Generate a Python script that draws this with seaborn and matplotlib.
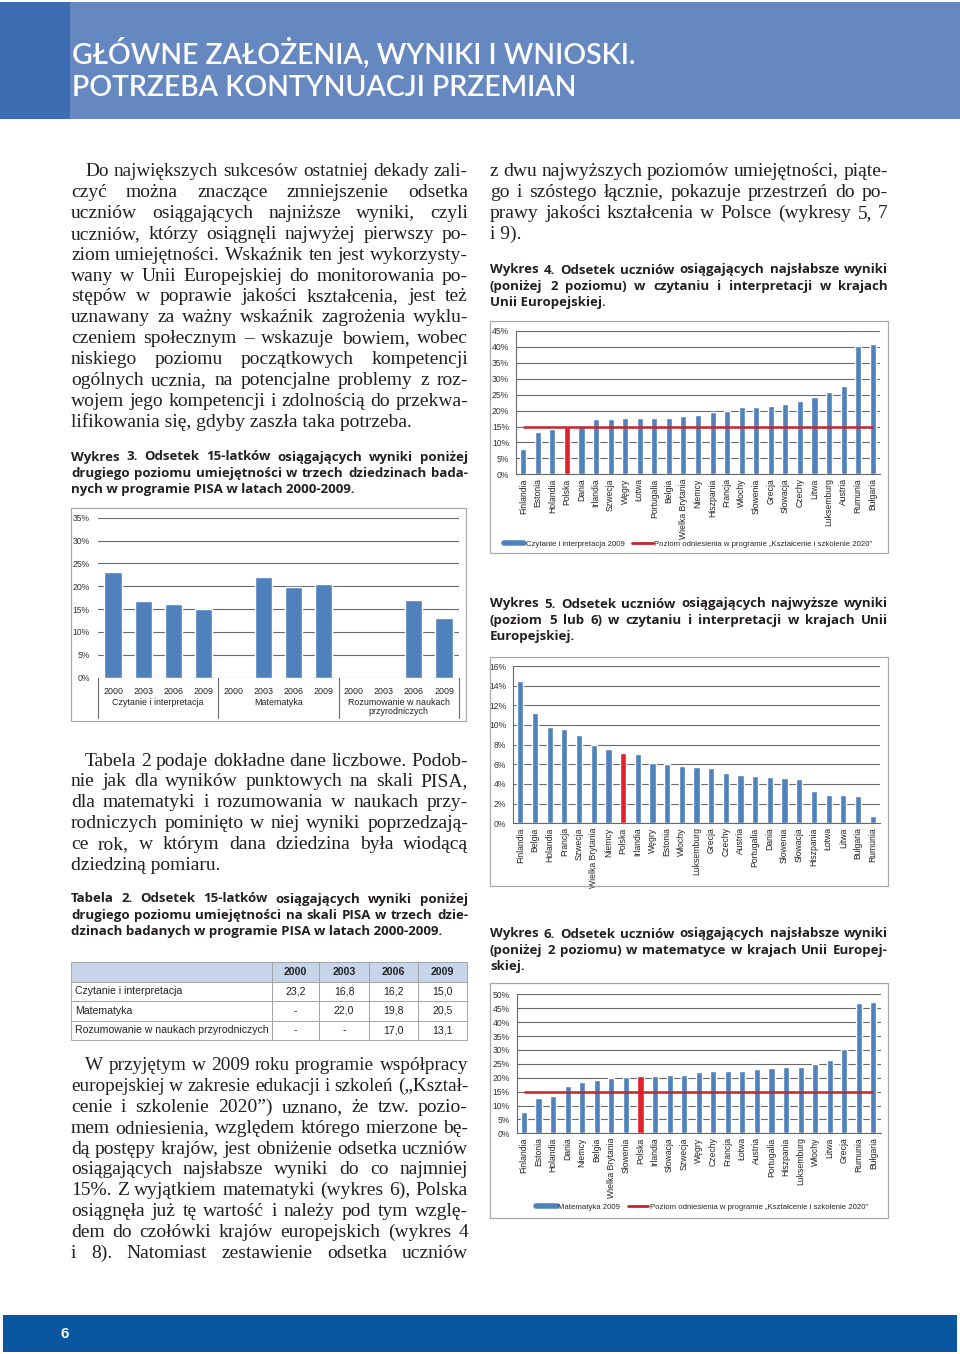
import matplotlib
matplotlib.use("Agg")
import numpy as np
import pandas as pd
import matplotlib.pyplot as plt
import matplotlib.transforms as mtransforms
from matplotlib.patches import Rectangle
from matplotlib.lines import Line2D
import seaborn as sns

sns.set_style("white")
narrow = ["Liberation Sans Narrow", "Liberation Sans", "DejaVu Sans"]
plt.rcParams["font.family"] = narrow

# ---- data ----
years = ["2000", "2003", "2006", "2009"]
domains = ["Czytanie i interpretacja", "Matematyka", "Rozumowanie w naukach przyrodniczych"]
domain_labels = ["Czytanie i interpretacja", "Matematyka", "Rozumowanie w naukach\nprzyrodniczych"]
reading = [23.2, 16.8, 16.2, 15.0]
math = [np.nan, 22.0, 19.8, 20.5]
science = [np.nan, np.nan, 17.0, 13.1]

w4_countries = ["Finlandia", "Estonia", "Holandia", "Polska", "Dania", "Irlandia", "Szwecja", "Węgry",
                "Łotwa", "Portugalia", "Belgia", "Wielka Brytania", "Niemcy", "Hiszpania", "Francja",
                "Włochy", "Słowenia", "Grecja", "Słowacja", "Czechy", "Litwa", "Luksemburg", "Austria",
                "Rumunia", "Bułgaria"]
w4_values = [8.1, 13.3, 14.3, 15.0, 15.2, 17.3, 17.5, 17.6, 17.6, 17.6, 17.7, 18.4, 18.5, 19.6, 19.8,
             21.0, 21.2, 21.3, 22.2, 23.1, 24.3, 26.0, 27.6, 40.4, 40.9]

w5_countries = ["Finlandia", "Belgia", "Holandia", "Francja", "Szwecja", "Wielka Brytania", "Niemcy",
                "Polska", "Irlandia", "Węgry", "Estonia", "Włochy", "Luksemburg", "Grecja", "Czechy",
                "Austria", "Portugalia", "Dania", "Słowenia", "Słowacja", "Hiszpania", "Łotwa", "Litwa",
                "Bułgaria", "Rumunia"]
w5_values = [14.5, 11.2, 9.8, 9.6, 9.0, 8.0, 7.6, 7.2, 7.0, 6.1, 6.0, 5.8, 5.7, 5.6, 5.1, 4.9, 4.8,
             4.7, 4.6, 4.5, 3.3, 2.9, 2.9, 2.8, 0.7]

w6_countries = ["Finlandia", "Estonia", "Holandia", "Dania", "Niemcy", "Belgia", "Wielka Brytania",
                "Słowenia", "Polska", "Irlandia", "Słowacja", "Szwecja", "Węgry", "Czechy", "Francja",
                "Łotwa", "Austria", "Portugalia", "Hiszpania", "Luksemburg", "Włochy", "Litwa", "Grecja",
                "Rumunia", "Bułgaria"]
w6_values = [7.8, 12.6, 13.4, 17.0, 18.6, 19.1, 20.0, 20.1, 20.5, 20.7, 21.0, 21.0, 22.2, 22.3, 22.4,
             22.5, 23.2, 23.6, 23.7, 23.9, 24.9, 26.3, 30.3, 47.0, 47.1]

ref_level = 15
ref_label = "Poziom odniesienia w programie „Kształcenie i szkolenie 2020”"

BLUE = "#4f81bd"
RED = "#e3202a"
REFRED = "#c4262e"
GRID = "#6a6a6a"
INK = "#231f20"

W, H = 960, 1354
fig = plt.figure(figsize=(W / 100, H / 100), dpi=100)
fig.patch.set_facecolor("white")
renderer = fig.canvas.get_renderer()


def box(x0, y0, x1, y1):
    return [x0 / W, 1 - y1 / H, (x1 - x0) / W, (y1 - y0) / H]


def rect(x0, y0, x1, y1, **kw):
    fig.add_artist(Rectangle((x0 / W, 1 - y1 / H), (x1 - x0) / W, (y1 - y0) / H,
                             transform=fig.transFigure, **kw))


def text_line(s, x0, x1, y, justify=True, min_gap=4.0, **kw):
    words = s.split()
    if not justify or len(words) < 2:
        fig.text(x0 / W, 1 - y / H, s, va="center", ha="left", **kw)
        return
    ts = [fig.text(0, 1 - y / H, w, va="center", ha="left", **kw) for w in words]
    size = kw.get("fontsize", 10)
    while True:
        ws = [t.get_window_extent(renderer).width for t in ts]
        gap = (x1 - x0 - sum(ws)) / (len(words) - 1)
        if gap >= min_gap or size < 6:
            break
        size -= 0.15
        for t in ts:
            t.set_fontsize(size)
    x = x0
    for t, w in zip(ts, ws):
        t.set_x(x / W)
        x += w + gap


def paragraph(lines, x0, x1, y0, dy, indent=0, last_justify=False, **kw):
    for i, s in enumerate(lines):
        last = i == len(lines) - 1
        text_line(s, x0 + (indent if i == 0 else 0), x1, y0 + i * dy,
                  justify=(not last) or last_justify, **kw)


body = dict(family=["Liberation Serif", "DejaVu Serif"], fontsize=14.0, color=INK, min_gap=4.5)
cap = dict(family=["Open Sans", "DejaVu Sans"], fontsize=9.5, fontweight="bold", color=INK,
           min_gap=3.0)

# ---- header / footer ----
rect(0, 2, 960, 119, facecolor="#6688c1", edgecolor="none")
rect(0, 2, 70, 119, facecolor="#3c6db3", edgecolor="none")
title_kw = dict(family=["Lato", "Open Sans"], color="white", fontsize=25, fontweight="semibold")
t1 = fig.text(72 / W, 1 - 53 / H, "GŁÓWNE ZAŁOŻENIA, WYNIKI I WNIOSKI.", va="center", **title_kw)
scale = 565 / t1.get_window_extent(renderer).width
t1.set_fontsize(25 * scale)
fig.text(72 / W, 1 - 88 / H, "POTRZEBA KONTYNUACJI PRZEMIAN", va="center",
         **{**title_kw, "fontsize": 25 * scale})

rect(3, 1315, 957, 1352, facecolor="#0b56a0", edgecolor="none")
fig.text(65 / W, 1 - 1334 / H, "6", color="white", fontsize=11, fontweight="bold",
         va="center", ha="center", family=["Liberation Sans", "DejaVu Sans"])

# ---- left column text ----
paragraph([
    "Do największych sukcesów ostatniej dekady zali-",
    "czyć można znaczące zmniejszenie odsetka",
    "uczniów osiągających najniższe wyniki, czyli",
    "uczniów, którzy osiągnęli najwyżej pierwszy po-",
    "ziom umiejętności. Wskaźnik ten jest wykorzysty-",
    "wany w Unii Europejskiej do monitorowania po-",
    "stępów w poprawie jakości kształcenia, jest też",
    "uznawany za ważny wskaźnik zagrożenia wyklu-",
    "czeniem społecznym – wskazuje bowiem, wobec",
    "niskiego poziomu początkowych kompetencji",
    "ogólnych ucznia, na potencjalne problemy z roz-",
    "wojem jego kompetencji i zdolnością do przekwa-",
    "lifikowania się, gdyby zaszła taka potrzeba.",
], 71, 468, 172, 20.83, indent=14, **body)

paragraph([
    "Wykres 3. Odsetek 15-latków osiągających wyniki poniżej",
    "drugiego poziomu umiejętności w trzech dziedzinach bada-",
    "nych w programie PISA w latach 2000-2009.",
], 71, 468, 457, 16.2, **cap)

paragraph([
    "Tabela 2 podaje dokładne dane liczbowe. Podob-",
    "nie jak dla wyników punktowych na skali PISA,",
    "dla matematyki i rozumowania w naukach przy-",
    "rodniczych pominięto w niej wyniki poprzedzają-",
    "ce rok, w którym dana dziedzina była wiodącą",
    "dziedziną pomiaru.",
], 71, 468, 761, 20.83, indent=14, **body)

paragraph([
    "Tabela 2. Odsetek 15-latków osiągających wyniki poniżej",
    "drugiego poziomu umiejętności na skali PISA w trzech dzie-",
    "dzinach badanych w programie PISA w latach 2000-2009.",
], 71, 468, 899, 16.2, **cap)

paragraph([
    "W przyjętym w 2009 roku programie współpracy",
    "europejskiej w zakresie edukacji i szkoleń („Kształ-",
    "cenie i szkolenie 2020”) uznano, że tzw. pozio-",
    "mem odniesienia, względem którego mierzone bę-",
    "dą postępy krajów, jest obniżenie odsetka uczniów",
    "osiągających najsłabsze wyniki do co najmniej",
    "15%. Z wyjątkiem matematyki (wykres 6), Polska",
    "osiągnęła już tę wartość i należy pod tym wzglę-",
    "dem do czołówki krajów europejskich (wykres 4",
    "i 8). Natomiast zestawienie odsetka uczniów",
], 71, 468, 1066, 20.8, indent=14, last_justify=True, **body)

# ---- right column text ----
paragraph([
    "z dwu najwyższych poziomów umiejętności, piąte-",
    "go i szóstego łącznie, pokazuje przestrzeń do po-",
    "prawy jakości kształcenia w Polsce (wykresy 5, 7",
    "i 9).",
], 490, 888, 172, 20.8, **body)

paragraph([
    "Wykres 4. Odsetek uczniów osiągających najsłabsze wyniki",
    "(poniżej 2 poziomu) w czytaniu i interpretacji w krajach",
    "Unii Europejskiej.",
], 490, 888, 270, 16.2, **cap)

paragraph([
    "Wykres 5. Odsetek uczniów osiągających najwyższe wyniki",
    "(poziom 5 lub 6) w czytaniu i interpretacji w krajach Unii",
    "Europejskiej.",
], 490, 888, 604, 16.2, **cap)

paragraph([
    "Wykres 6. Odsetek uczniów osiągających najsłabsze wyniki",
    "(poniżej 2 poziomu) w matematyce w krajach Unii Europej-",
    "skiej.",
], 490, 888, 934, 16.2, **cap)

# ---- chart frames ----
for fr in [(71, 508, 466, 721), (490, 321, 888, 553), (490, 657, 888, 886), (490, 983, 888, 1218)]:
    rect(*fr, facecolor="none", edgecolor="#a8a8a8", lw=0.9)


def style_axes(ax, ymax, step, left_spine=True):
    ax.set_ylim(0, ymax)
    ticks = np.arange(0, ymax + step / 2, step)
    ax.set_yticks(ticks)
    ax.set_yticklabels([f"{v:g}%" for v in ticks], fontsize=6.2, color="#333333")
    ax.yaxis.grid(True, color=GRID, lw=0.8)
    ax.xaxis.grid(False)
    ax.set_axisbelow(True)
    ax.set_xlabel("")
    ax.set_ylabel("")
    ax.set_facecolor("none")
    for s in ["top", "right"]:
        ax.spines[s].set_visible(False)
    ax.spines["bottom"].set_color(GRID)
    ax.spines["bottom"].set_linewidth(0.8)
    ax.spines["left"].set_visible(left_spine)
    ax.spines["left"].set_color(GRID)
    ax.spines["left"].set_linewidth(0.8)
    ax.tick_params(axis="y", length=3 if left_spine else 0, width=0.8, color=GRID, pad=2)


# ---- Wykres 3 ----
ax3 = fig.add_axes(box(98, 517.7, 459, 677.7))
slots, vals = [], []
for d, series in zip(domains, [reading, math, science]):
    for y, v in zip(years, series):
        slots.append(f"{d}|{y}")
        vals.append(v)
df3 = pd.DataFrame({"slot": slots, "val": vals})
sns.barplot(data=df3.dropna(), x="slot", y="val", order=slots, color=BLUE, saturation=1,
            width=0.57, ax=ax3)
style_axes(ax3, 35, 5, left_spine=False)
ax3.spines["bottom"].set_visible(False)
ax3.set_xlim(-0.5, len(slots) - 0.5)
ax3.set_xticks(range(len(slots)))
ax3.set_xticklabels(years * len(domains), fontsize=6.4, color="#222222")
ax3.tick_params(axis="x", length=0, pad=7)
ax3.tick_params(axis="y", pad=6)
tr = mtransforms.blended_transform_factory(ax3.transData, ax3.transAxes)
n = len(years)
for k in range(len(domains) + 1):
    ax3.plot([k * n - 0.5] * 2, [0, -0.25], transform=tr, clip_on=False, color=GRID, lw=0.8)
for k, lab in enumerate(domain_labels):
    ax3.text(k * n + (n - 1) / 2, -0.125, lab, transform=tr, ha="center", va="top",
             fontsize=6.4, color="#222222", linespacing=1.05)


# ---- country charts ----
def country_chart(rect_px, names, values, ymax, step, legend_label=None, legend_xy=None):
    ax = fig.add_axes(box(*rect_px))
    df = pd.DataFrame({"kraj": names, "val": values})
    colors = [RED if c == "Polska" else BLUE for c in names]
    sns.barplot(data=df, x="kraj", y="val", hue="kraj", palette=colors, legend=False,
                saturation=1, width=0.42, ax=ax)
    style_axes(ax, ymax, step)
    ax.set_xlim(-0.5, len(names) - 0.5)
    ax.tick_params(axis="x", rotation=90, labelsize=6.2, length=0, pad=3, labelcolor="#222222")
    if legend_label is not None:
        ax.hlines(ref_level, 0, len(names) - 1, color=REFRED, lw=1.8, zorder=5)
        handles = [Line2D([], [], color=BLUE, lw=4), Line2D([], [], color=REFRED, lw=2)]
        fig.legend(handles, [legend_label, ref_label], loc="center",
                   bbox_to_anchor=(legend_xy[0] / W, 1 - legend_xy[1] / H), ncol=2,
                   frameon=False, fontsize=5.6, handlelength=2.6, handletextpad=0.2,
                   columnspacing=1.0)
    return ax


country_chart((516, 331, 880, 474.3), w4_countries, w4_values, 45, 5,
              "Czytanie i interpretacja 2009", (688, 544))
country_chart((513, 666, 880, 823.3), w5_countries, w5_values, 16, 2)
country_chart((516.7, 994.3, 880.7, 1133.3), w6_countries, w6_values, 50, 5,
              "Matematyka 2009", (702, 1207))

# ---- Tabela 2 ----
def fmt(v):
    return "-" if np.isnan(v) else f"{v:.1f}".replace(".", ",")


axt = fig.add_axes(box(71, 962, 467, 1040))
axt.axis("off")
cell_text = [[d] + [fmt(v) for v in series] for d, series in zip(domains, [reading, math, science])]
tbl = axt.table(cellText=cell_text, colLabels=[""] + years, bbox=[0, 0, 1, 1],
                colWidths=[201, 47, 50, 49, 49], cellLoc="center")
tbl.auto_set_font_size(False)
tbl.set_fontsize(7.6)
for (r, c), cell in tbl.get_celld().items():
    cell.set_edgecolor("#9c9c9c")
    cell.set_linewidth(0.6)
    cell.get_text().set_color("#222222")
    if r == 0:
        cell.set_facecolor("#c7d5eb")
        cell.get_text().set_fontweight("bold")
    if c == 0:
        cell.get_text().set_horizontalalignment("left")
        cell.PAD = 0.02

fig.savefig("out.png", dpi=100)
